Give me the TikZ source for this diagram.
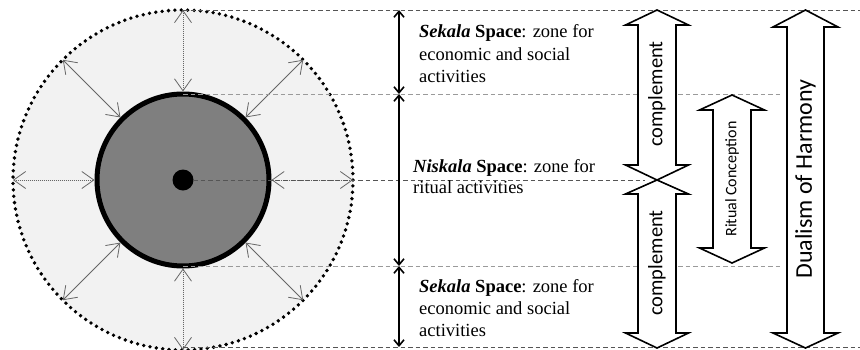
\documentclass[tikz,border=0pt]{standalone}
\usepackage{fontspec}
\setmainfont{Liberation Serif}
\newfontfamily\calib{Carlito}
\usetikzlibrary{arrows.meta}
\definecolor{ringfill}{HTML}{F2F2F2}
\definecolor{corefill}{HTML}{7F7F7F}
\definecolor{guidedark}{HTML}{555555}
\definecolor{guidelight}{HTML}{9A9A9A}
\definecolor{spokecol}{HTML}{666666}
\tikzset{
  ringnode/.style={circle, minimum size=340pt, inner sep=0pt, outer sep=0pt, fill=ringfill, draw=black, line width=3.8pt, dash pattern=on 0pt off 6.4pt, line cap=round},
  corenode/.style={circle, minimum size=172pt, inner sep=0pt, outer sep=2.5pt, fill=corefill, draw=black, line width=5pt},
  spoke/.style={draw=spokecol, line width=0.8pt, {Straight Barb[length=12pt,width=17pt]}-{Straight Barb[length=12pt,width=17pt]}},
  dotspoke/.style={spoke, dash pattern=on 1pt off 1pt},
  guide/.style={line width=1pt, dash pattern=on 4.5pt off 3pt},
  zonearrow/.style={line width=1.6pt, {Straight Barb[length=6pt,width=10pt]}-{Straight Barb[length=6pt,width=10pt]}},
  ztext/.style={anchor=base west, inner sep=0pt, font=\fontsize{18.5}{22}\selectfont},
  bigarrow/.style={draw=black, fill=white, line width=1.6pt, line join=miter},
  vtext/.style={rotate=90, inner sep=0pt},
}
\begin{document}
\begin{tikzpicture}[x=1pt,y=-1pt]
\useasboundingbox (0,0) rectangle (860,349);
% circles
\node[ringnode] (outer) at (183,180) {};
\node[corenode] (core) at (183,180) {};
\fill (183,180) circle[radius=10.5pt];
\coordinate (dot) at (183,180);
% spokes
\foreach \a in {45,135,225,315}{
  \draw[spoke] (core.\a) -- (outer.\a);
}
\foreach \a in {0,90,180,270}{
  \draw[dotspoke] (core.\a) -- (outer.\a);
}
% guide lines
\coordinate (g1L) at (183,10);   \coordinate (g1R) at (860,10);
\coordinate (g2L) at (183,94);   \coordinate (g2R) at (780,94);
\coordinate (g3L) at (193,180);  \coordinate (g3R) at (645,180);
\coordinate (g4L) at (183,266);  \coordinate (g4R) at (783,266);
\coordinate (g5L) at (183,347);  \coordinate (g5R) at (860,347);
\draw[guide, guidedark] (g1L) -- (g1R);
\draw[guide, guidelight] (g2L) -- (g2R);
\draw[guide, guidedark] (g3L) -- (g3R);
\draw[guide, guidelight] (g4L) -- (g4R);
\draw[guide, guidedark] (g5L) -- (g5R);
% zone arrows
\coordinate (z1) at (399,10);
\coordinate (z2) at (399,94);
\coordinate (z3) at (399,266);
\coordinate (z4) at (399,347);
\draw[zonearrow] (z1) -- (z2);
\draw[zonearrow] (z2) -- (z3);
\draw[zonearrow] (z3) -- (z4);
% zone texts
\node[ztext] (s1a) at (419,37) {\textbf{\textit{Sekala} Space}: zone for};
\node[ztext] (s1b) at (419,60) {economic and social};
\node[ztext] (s1c) at (419,82) {activities};
\node[ztext] (n1a) at (413,172) {\textbf{\textit{Niskala} Space}: zone for};
\node[ztext] (n1b) at (413,193) {ritual activities};
\node[ztext] (s2a) at (419,292) {\textbf{\textit{Sekala} Space}: zone for};
\node[ztext] (s2b) at (419,314) {economic and social};
\node[ztext] (s2c) at (419,336) {activities};
% big double arrows
\draw[bigarrow] (657,10) -- (688.5,25) -- (676,25) -- (676,165) -- (688.5,165) -- (657,180)
  -- (625.5,165) -- (638,165) -- (638,25) -- (625.5,25) -- cycle;
\node[vtext, font=\calib\fontsize{20.5}{24}\selectfont] (comp1) at (657,94) {complement};
\draw[bigarrow] (657,180) -- (688.5,194) -- (676,194) -- (676,333) -- (688.5,333) -- (657,348)
  -- (625.5,333) -- (638,333) -- (638,194) -- (625.5,194) -- cycle;
\node[vtext, font=\calib\fontsize{20.5}{24}\selectfont] (comp2) at (657,263) {complement};
\draw[bigarrow] (732,95) -- (764.5,110) -- (751,110) -- (751,248) -- (764.5,248) -- (732,263)
  -- (699.5,248) -- (713,248) -- (713,110) -- (699.5,110) -- cycle;
\node[vtext, font=\calib\fontsize{16}{19}\selectfont] (ritual) at (732,179) {Ritual Conception};
\draw[bigarrow] (805.5,10) -- (838,27) -- (824,27) -- (824,333) -- (838,333) -- (805.5,348)
  -- (773,333) -- (787,333) -- (787,27) -- (773,27) -- cycle;
\node[vtext, font=\calib\fontsize{24}{28}\selectfont] (dual) at (805.5,179) {Dualism of Harmony};
\end{tikzpicture}
\end{document}
